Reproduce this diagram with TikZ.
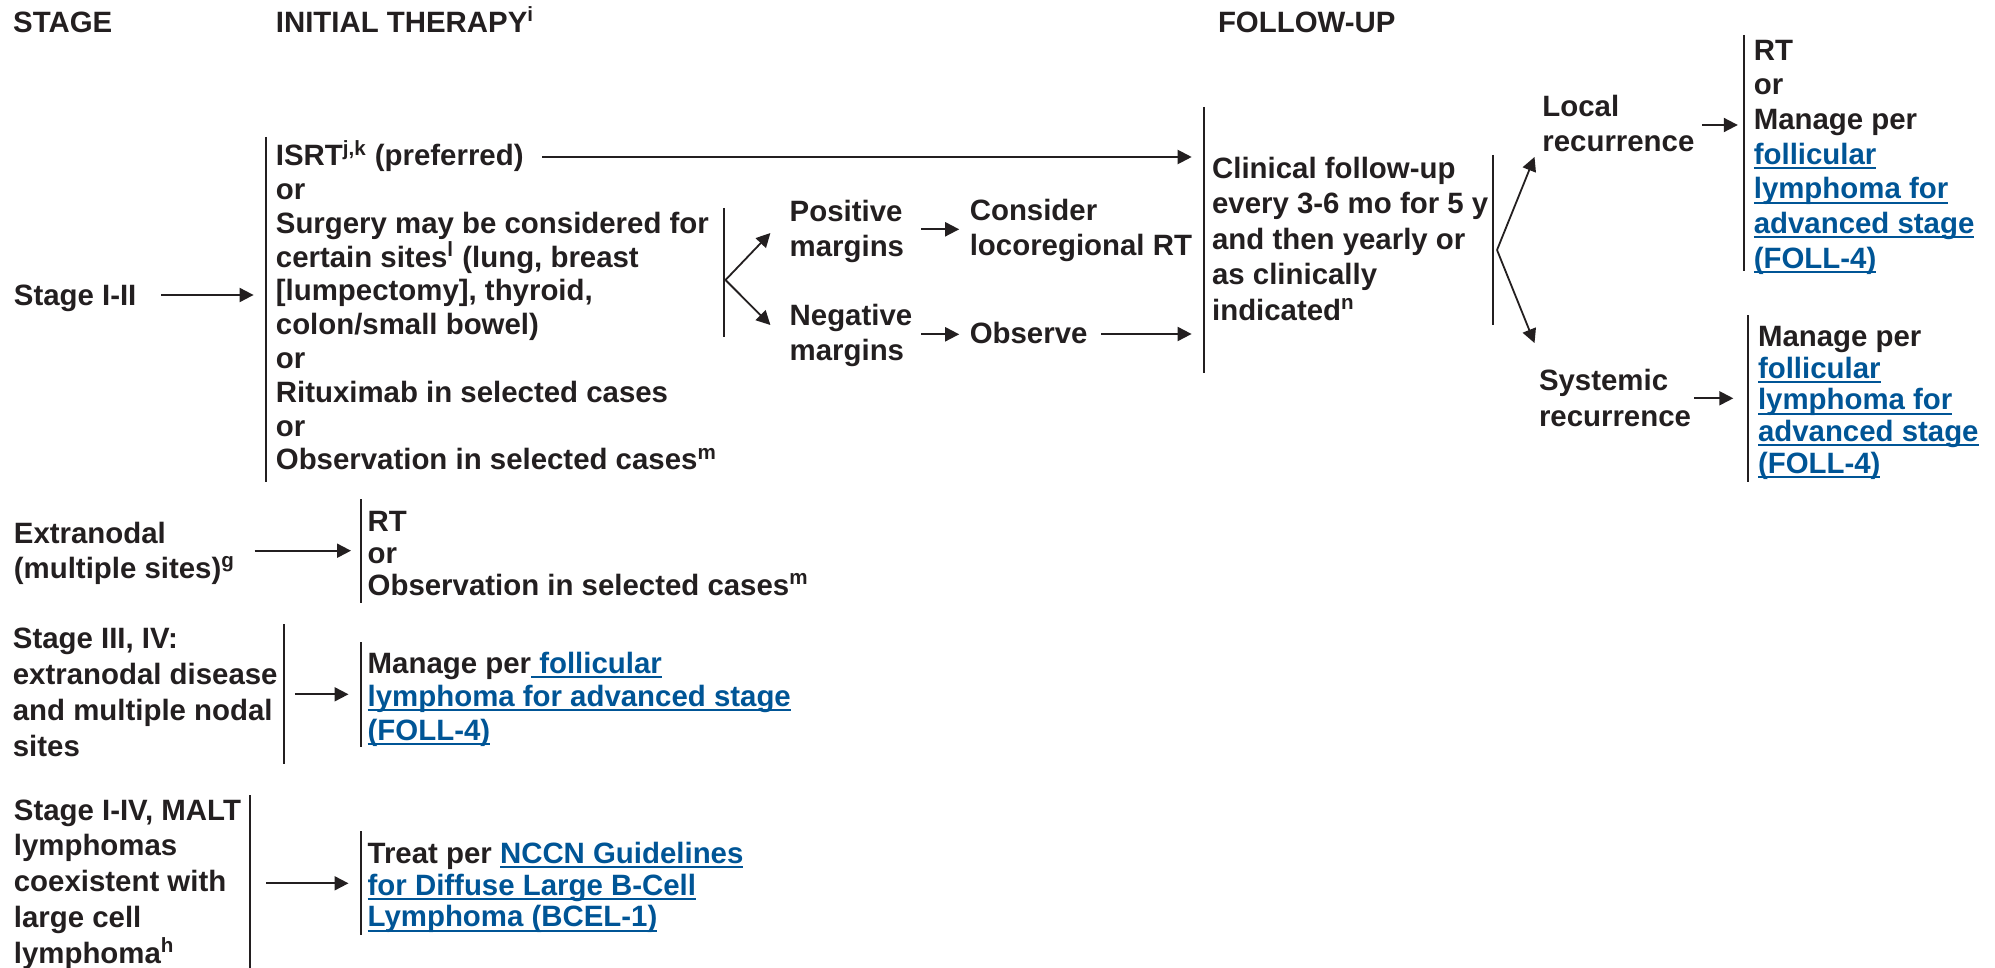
\documentclass[tikz,border=0pt]{standalone}
\usepackage{fontspec}
\setmainfont{Liberation Sans}
\usetikzlibrary{arrows.meta, calc}

\definecolor{ink}{HTML}{231F20}
\definecolor{linkblue}{RGB}{0,85,150}
\newcommand{\lnk}[1]{{\color{linkblue}\setbox0=\hbox{#1}\rlap{\rule[-2.4pt]{\wd0}{1pt}}\box0}}
\newcommand{\fn}[1]{\textsuperscript{#1}}

% nodes sit on the baseline of their last line
\tikzset{
    txt/.style={anchor=base west, inner sep=0pt, align=left, text=ink,
        font=\fontsize{14.7pt}{#1}\selectfont\bfseries},
    txt/.default=17pt,
    bar/.style={draw=ink, line width=1pt},
    arr/.style={draw=ink, line width=1pt, -{Triangle[length=7pt,width=7pt]}},
    fork/.style={arr, line width=0.9pt},
}

\begin{document}
\begin{tikzpicture}[x=0.5pt, y=-0.5pt]
    \useasboundingbox (0,0) rectangle (1995,968);

    % headings
    \node[txt] (hstage) at (12.8,32.3) {STAGE};
    \node[txt] (htherapy) at (275.5,32.3) {INITIAL THERAPY\fn{i}};
    \node[txt] (hfollow) at (1217.6,32.3) {FOLLOW-UP};

    % stage I-II
    \node[txt] (stage12) at (13.5,305) {Stage I-II};
    \coordinate (b1t) at (265.8,137); \coordinate (b1b) at (265.8,482);
    \draw[bar] (b1t) -- (b1b);
    \node[txt] (isrt) at (275.5,165.7) {ISRT\fn{j,k} (preferred)};
    \node[txt=16.9pt] (therapy) at (275.5,469.9) {or\\Surgery may be considered for\\certain sites\fn{l} (lung, breast\\{}[lumpectomy], thyroid,\\colon/small bowel)\\or\\Rituximab in selected cases\\or\\Observation in selected cases\fn{m}};
    \draw[arr] ($(stage12.base east)+(24.4,-10)$) -- ($(stage12.base east -| b1t)+(-12.2,-10)$);

    \coordinate (b2t) at (723.5,208); \coordinate (b2b) at (723.5,337);
    \draw[bar] (b2t) -- (b2b);
    \coordinate (fork1) at (725.5,280);
    \node[txt=17.5pt] (pos) at (789.3,256.7) {Positive\\margins};
    \node[txt=17.5pt] (neg) at (789.3,360) {Negative\\margins};
    \draw[fork] (fork1) -- ($(pos.base west)+(-18.9,-23.7)$);
    \draw[fork] (fork1) -- ($(neg.base west)+(-18.9,-35)$);

    \node[txt=17.5pt] (cons) at (969.4,256) {Consider\\locoregional RT};
    \node[txt] (obs) at (969.4,343) {Observe};
    \draw[arr] ($(pos.base east)+(16.7,-27.4)$) -- ($(pos.base east -| cons.west)+(-10.2,-27.4)$);
    \draw[arr] ($(neg.base east)+(8.6,-25.7)$) -- ($(neg.base east -| cons.west)+(-10.2,-25.7)$);

    % follow-up
    \coordinate (b3t) at (1203.6,107); \coordinate (b3b) at (1203.6,372.7);
    \draw[bar] (b3t) -- (b3b);
    \draw[arr] ($(isrt.base east)+(18.5,-8.7)$) -- ($(isrt.base east -| b3t)+(-11.9,-8.7)$);
    \draw[arr] ($(obs.base east)+(13.4,-9)$) -- ($(obs.base east -| b3t)+(-12,-9)$);
    \node[txt=17.8pt] (fu) at (1211.7,320.4) {Clinical follow-up\\every 3-6 mo for 5 y\\and then yearly or\\as clinically\\indicated\fn{n}};

    \coordinate (b4t) at (1492.5,155); \coordinate (b4b) at (1492.5,325);
    \draw[bar] (b4t) -- (b4b);
    \coordinate (fork2) at (1497,250);
    \node[txt=17.35pt] (local) at (1542,151.7) {Local\\recurrence};
    \node[txt=18.35pt] (sys) at (1538.6,426.7) {Systemic\\recurrence};
    \draw[fork] (fork2) -- ($(local.base west)+(-7.5,5.3)$);
    \draw[fork] (fork2) -- ($(sys.base west)+(-4.1,-83.7)$);

    \coordinate (b5t) at (1744.4,35); \coordinate (b5b) at (1744.4,270.7);
    \draw[bar] (b5t) -- (b5b);
    \node[txt=17.35pt] (rt) at (1753.4,268.2) {RT\\or\\Manage per\\\lnk{follicular}\\\lnk{lymphoma for}\\\lnk{advanced stage}\\\lnk{(FOLL-4)}};
    \draw[arr] ($(local.base east)+(7,-26.7)$) -- ($(local.base east -| b5t)+(-6.6,-26.7)$);

    \coordinate (b6t) at (1748.2,315); \coordinate (b6b) at (1748.2,481.7);
    \draw[bar] (b6t) -- (b6b);
    \node[txt=15.8pt] (man) at (1757.6,473.1) {Manage per\\\lnk{follicular}\\\lnk{lymphoma for}\\\lnk{advanced stage}\\\lnk{(FOLL-4)}};
    \draw[arr] ($(sys.base east)+(2.8,-28.4)$) -- ($(sys.base east -| b6t)+(-14.9,-28.4)$);

    % extranodal
    \node[txt=17.5pt] (extr) at (13.5,578.3) {Extranodal\\(multiple sites)\fn{g}};
    \coordinate (b7t) at (360.7,499); \coordinate (b7b) at (360.7,602.7);
    \draw[bar] (b7t) -- (b7b);
    \node[txt=15.8pt] (rtobs) at (367.3,595) {RT\\or\\Observation in selected cases\fn{m}};
    \draw[arr] ($(extr.base east)+(19.2,-27.6)$) -- ($(extr.base east -| b7t)+(-9.7,-27.6)$);

    % stage III, IV
    \node[txt=18pt] (st34) at (12.5,756.3) {Stage III, IV:\\extranodal disease\\and multiple nodal\\sites};
    \coordinate (b8t) at (284.2,624); \coordinate (b8b) at (284.2,764);
    \draw[bar] (b8t) -- (b8b);
    \coordinate (b9t) at (360.7,642); \coordinate (b9b) at (360.7,746.7);
    \draw[bar] (b9t) -- (b9b);
    \node[txt=16.75pt] (adv) at (367.3,740) {Manage per\lnk{ follicular}\\\lnk{lymphoma for advanced stage}\\\lnk{(FOLL-4)}};
    \draw[arr] ($(st34.base east -| b8t)+(10.7,-62)$) -- ($(st34.base east -| b9t)+(-12.2,-62)$);

    % MALT with large cell
    \node[txt=17.9pt] (malt) at (13.5,963.2) {Stage I-IV, MALT\\lymphomas\\coexistent with\\large cell\\lymphoma\fn{h}};
    \coordinate (b10t) at (249.5,795); \coordinate (b10b) at (249.5,968);
    \draw[bar] (b10t) -- (b10b);
    \coordinate (b11t) at (360.7,831); \coordinate (b11b) at (360.7,935);
    \draw[bar] (b11t) -- (b11b);
    \node[txt=15.85pt] (dlbcl) at (367.3,926.7) {Treat per \lnk{NCCN Guidelines}\\\lnk{for Diffuse Large B-Cell}\\\lnk{Lymphoma (BCEL-1)}};
    \draw[arr] ($(malt.base east -| b10t)+(16.8,-79.9)$) -- ($(malt.base east -| b11t)+(-12.2,-79.9)$);

\end{tikzpicture}
\end{document}
